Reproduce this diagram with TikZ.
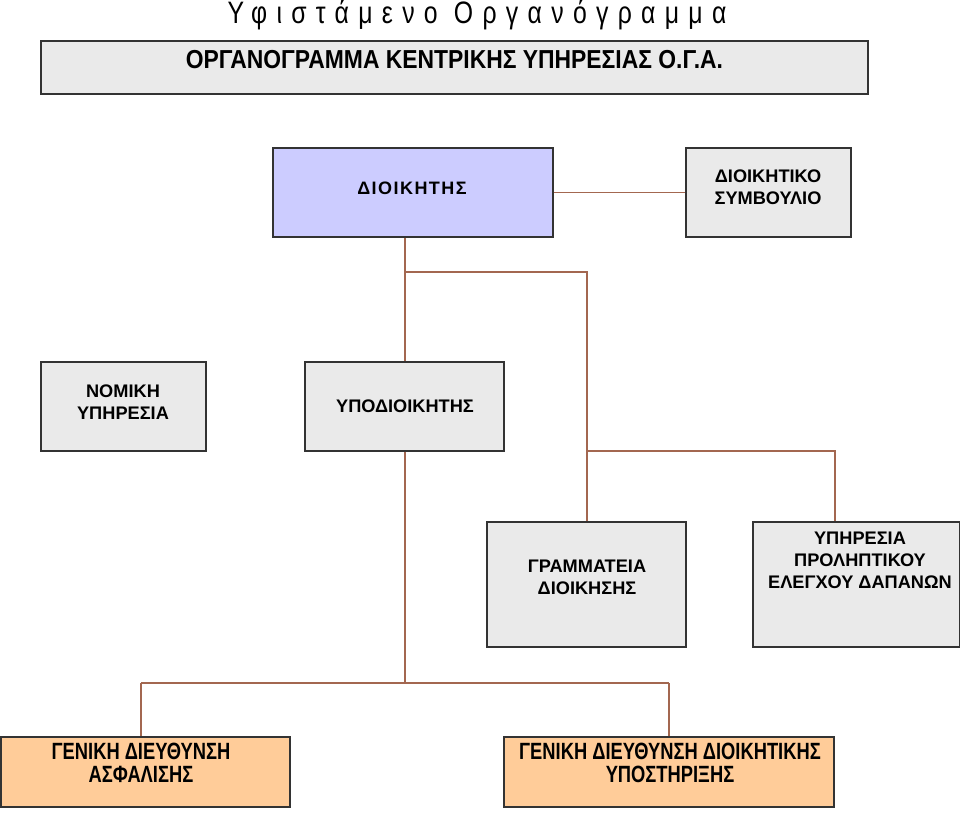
\documentclass[tikz,border=0pt]{standalone}
\usepackage{fontspec}
\setmainfont{Liberation Sans}
\newfontfamily\titlefont[FakeStretch=0.8,LetterSpace=30]{Liberation Sans}
\newfontfamily\headfont[FakeStretch=0.88]{Liberation Sans Bold}
\newfontfamily\boxfont{Liberation Sans Bold}
\newfontfamily\widefont[LetterSpace=8]{Liberation Sans Bold}
\newfontfamily\narrowfont[FakeStretch=0.78]{Liberation Sans Bold}
\usetikzlibrary{positioning, calc}

\definecolor{boxgray}{RGB}{234,234,234}
\definecolor{boxblue}{RGB}{204,204,255}
\definecolor{boxpeach}{RGB}{255,204,153}
\definecolor{linkbrown}{RGB}{163,103,80}

\begin{document}
\begin{tikzpicture}[
  x=1pt, y=-1pt,
  box/.style={draw=black!80, line width=1.1pt, minimum width=#1, inner sep=0pt},
  txt/.style={align=center, inner sep=0pt, font=\boxfont\fontsize{18.2}{22}\selectfont},
  bigtxt/.style={align=center, inner sep=0pt, font=\narrowfont\fontsize{23.5}{23}\selectfont},
  link/.style={draw=linkbrown, line width=1.4pt}
]
  \useasboundingbox (0,0) rectangle (960,812);

  % Title and header
  \node[font=\titlefont\fontsize{31}{32}\selectfont] (title) at (477,15) {Υφιστάμενο Οργανόγραμμα};
  \node[box=827pt, fill=boxgray, minimum height=53pt] (header) at (454.5,67.5) {};
  \node[font=\headfont\fontsize{26}{27}\selectfont] (header-t) at (454.5,59.5) {ΟΡΓΑΝΟΓΡΑΜΜΑ ΚΕΝΤΡΙΚΗΣ ΥΠΗΡΕΣΙΑΣ Ο.Γ.Α.};

  % Boxes
  \node[box=280pt, fill=boxblue, minimum height=89pt] (dioik) at (413,192.5) {};
  \node[box=165pt, fill=boxgray, minimum height=89pt] (symv) at (768.5,192.5) {};
  \node[box=165pt, fill=boxgray, minimum height=89pt] (nomiki) at (123.5,406.5) {};
  \node[box=199pt, fill=boxgray, minimum height=89pt] (ypod) at (404.5,406.5) {};
  \node[box=199pt, fill=boxgray, minimum height=125pt] (gramm) at (586.5,584.5) {};
  \node[box=207pt, fill=boxgray, minimum height=125pt] (prol) at (856.5,584.5) {};
  \node[box=289pt, fill=boxpeach, minimum height=70pt] (asfal) at (145.5,772) {};
  \node[box=330pt, fill=boxpeach, minimum height=70pt] (ypost) at (669,772) {};

  % Box texts
  \node[txt, font=\widefont\fontsize{18}{22}\selectfont] (dioik-t) at (412,188) {ΔΙΟΙΚΗΤΗΣ};
  \node[txt] (symv-t) at (768,187.5) {ΔΙΟΙΚΗΤΙΚΟ\\ΣΥΜΒΟΥΛΙΟ};
  \node[txt] (nomiki-t) at (123,402) {ΝΟΜΙΚΗ\\ΥΠΗΡΕΣΙΑ};
  \node[txt] (ypod-t) at (405,406) {ΥΠΟΔΙΟΙΚΗΤΗΣ};
  \node[txt] (gramm-t) at (587,577) {ΓΡΑΜΜΑΤΕΙΑ\\ΔΙΟΙΚΗΣΗΣ};
  \node[txt] (prol-t) at (860,560) {ΥΠΗΡΕΣΙΑ\\ΠΡΟΛΗΠΤΙΚΟΥ\\ΕΛΕΓΧΟΥ ΔΑΠΑΝΩΝ};
  \node[bigtxt] (asfal-t) at (141,762.5) {ΓΕΝΙΚΗ ΔΙΕΥΘΥΝΣΗ\\ΑΣΦΑΛΙΣΗΣ};
  \node[bigtxt] (ypost-t) at (670,762.5) {ΓΕΝΙΚΗ ΔΙΕΥΘΥΝΣΗ ΔΙΟΙΚΗΤΙΚΗΣ\\ΥΠΟΣΤΗΡΙΞΗΣ};

  % Junctions
  \coordinate (j1) at (405,272);
  \coordinate (j2) at (587,272);
  \coordinate (j3) at (587,451);
  \coordinate (j4) at (835,451);
  \coordinate (j5) at (405,683);
  \coordinate (j6) at (141,683);
  \coordinate (j7) at (669,683);

  % Connectors
  \draw[link] (dioik.east) -- (symv.west);
  \draw[link] (dioik.south -| j1) -- (ypod.north -| j1);
  \draw[link] (j1) -- (j2) -- (gramm.north -| j2);
  \draw[link] (j3) -- (j4) -- (prol.north -| j4);
  \draw[link] (ypod.south -| j5) -- (j5);
  \draw[link] (j6) -- (j7);
  \draw[link] (j6) -- (asfal.north -| j6);
  \draw[link] (j7) -- (ypost.north -| j7);
\end{tikzpicture}
\end{document}
